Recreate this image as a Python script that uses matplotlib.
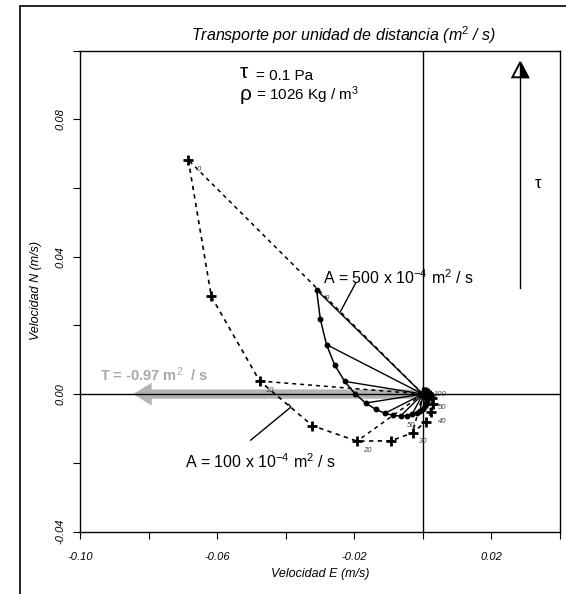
import matplotlib
matplotlib.use('Agg')
import matplotlib.pyplot as plt
from matplotlib.patches import Polygon, Rectangle, FancyArrow

plt.rcParams['font.family'] = ['Liberation Sans', 'DejaVu Sans']
plt.rcParams['mathtext.fontset'] = 'custom'
plt.rcParams['mathtext.rm'] = 'Liberation Sans'
plt.rcParams['mathtext.it'] = 'Liberation Sans:italic'
plt.rcParams['mathtext.bf'] = 'Liberation Sans:bold'

# ---------------- data ----------------
depth_m = [0, 5, 10, 15, 20, 25, 30, 35, 40, 45, 50, 55, 60, 65, 70, 75, 80, 85, 90, 95, 100]

# A = 500e-4 m2/s (solid)
a500_u = [-0.0310, -0.0299, -0.0281, -0.0257, -0.0228, -0.0198, -0.0167, -0.0138, -0.0111,
          -0.0086, -0.0065, -0.0046, -0.0031, -0.0018, -0.0008, 0.0000, 0.0005, 0.0009,
          0.0011, 0.0013, 0.0013]
a500_v = [0.0303, 0.0218, 0.0144, 0.0084, 0.0037, 0.0001, -0.0026, -0.0044, -0.0056,
          -0.0062, -0.0064, -0.0063, -0.0058, -0.0054, -0.0048, -0.0042, -0.0036, -0.0029,
          -0.0023, -0.0018, -0.0014]

# A = 100e-4 m2/s (dashed)
a100_u = [-0.0684, -0.0617, -0.0476, -0.0322, -0.0192, -0.0093, -0.0030, 0.0009, 0.0025,
          0.0030, 0.0027, 0.0021, 0.0014, 0.0008, 0.0004, 0.0001, 0.0000, -0.0001,
          -0.0001, -0.0001, -0.0001]
a100_v = [0.0681, 0.0284, 0.0038, -0.0092, -0.0137, -0.0136, -0.0113, -0.0080, -0.0053,
          -0.0030, -0.0012, -0.0002, 0.0004, 0.0006, 0.0006, 0.0005, 0.0004, 0.0003,
          0.0001, 0.0001, 0.0000]

a100_label_depths = [0, 10, 20, 30, 40, 50]
a500_label_depths = [0, 50, 100]

transport_label = 'T = -0.97 m$^2$  / s'
transport_arrow_u = -0.0845          # arrow tip (drawn length of transport vector)
tau_arrow_x = 0.0284
tau_arrow_y = [0.0308, 0.0966]

x_ticks = [-0.10, -0.08, -0.06, -0.04, -0.02, 0.00, 0.02, 0.04]
x_ticklabels = ['-0.10', '', '-0.06', '', '-0.02', '', '0.02', '']
y_ticks = [-0.04, -0.02, 0.00, 0.02, 0.04, 0.06, 0.08, 0.10]
y_ticklabels = ['-0.04', '', '0.00', '', '0.04', '', '0.08', '']

# ---------------- figure ----------------
W, H = 566, 594
fig = plt.figure(figsize=(W / 100, H / 100), dpi=100)
fig.patch.set_facecolor('white')

L, R, T, B = 80, 560, 50.5, 531.5
ax = fig.add_axes([L / W, (H - B) / H, (R - L) / W, (B - T) / H])
ax.set_xlim(-0.10, 0.04)
ax.set_ylim(-0.04, 0.10)

# outer frame
fig.add_artist(Rectangle((20 / W, -0.2), 2.0, (H - 6) / H + 0.2, transform=fig.transFigure,
                         fill=False, ec='black', lw=1.2))

# gray transport arrow
ax.add_patch(FancyArrow(0, 0, transport_arrow_u, 0, width=0.0027, head_width=0.0066,
                        head_length=0.0054, length_includes_head=True,
                        color='#b3b3b3', ec='none', zorder=1))

# zero lines
ax.axhline(0, color='black', lw=1.0, zorder=3)
ax.axvline(0, color='black', lw=1.0, zorder=3)

dash = (0, (2.6, 2.6))

# fan lines (every 10 m)
for d, u, v in zip(depth_m, a500_u, a500_v):
    if d % 10 == 0:
        ax.plot([0, u], [0, v], color='black', lw=1.0, zorder=4)
for d, u, v in zip(depth_m, a100_u, a100_v):
    if d % 10 == 0:
        ax.plot([0, u], [0, v], color='black', lw=1.1, ls=dash, zorder=4)

# curves
ax.plot(a500_u, a500_v, color='black', lw=1.1, marker='o', ms=3.2, zorder=5)
ax.plot(a100_u, a100_v, color='black', lw=1.2, ls=dash, marker='+', ms=6.5, mew=2.0, zorder=5)

# depth labels
for d, u, v in zip(depth_m, a100_u, a100_v):
    if d in a100_label_depths:
        ax.annotate(str(d), (u, v), xytext=(7.5, -6.5), textcoords='offset points',
                    fontsize=5.5, style='italic', color='#444444', ha='center', va='center',
                    zorder=6)
for d, u, v in zip(depth_m, a500_u, a500_v):
    if d in a500_label_depths:
        off = (7.5, -6.5) if d != 100 else (9, 3)
        ax.annotate(str(d), (u, v), xytext=off, textcoords='offset points',
                    fontsize=5.5, style='italic', color='#444444', ha='center', va='center',
                    zorder=6)

# leader lines for the A labels
ax.plot([-0.0196, -0.0240], [0.0323, 0.0241], color='black', lw=1.0, zorder=4)
ax.plot([-0.0502, -0.0385, -0.0391], [-0.0134, -0.0038, -0.0030], color='black', lw=1.0, zorder=4)

# tau arrow (right)
ax.plot([tau_arrow_x, tau_arrow_x], [tau_arrow_y[0], tau_arrow_y[1] - 0.0044], color='black', lw=1.0,
        zorder=4)
hw = 0.0023
tip = (tau_arrow_x, tau_arrow_y[1])
base_y = tau_arrow_y[1] - 0.0044
ax.add_patch(Polygon([tip, (tau_arrow_x - hw, base_y), (tau_arrow_x + hw, base_y)], closed=True,
                     fc='white', ec='black', lw=1.4, zorder=5))
ax.add_patch(Polygon([tip, (tau_arrow_x, base_y), (tau_arrow_x + hw, base_y)], closed=True,
                     fc='black', ec='black', lw=1.0, zorder=6))

# ticks
ax.set_xticks(x_ticks)
ax.set_xticklabels(x_ticklabels)
ax.set_yticks(y_ticks)
ax.set_yticklabels(y_ticklabels)
ax.tick_params(axis='both', direction='out', length=5, width=0.8, labelsize=8)
ax.tick_params(axis='x', pad=10)
ax.tick_params(axis='y', pad=5.5, labelrotation=90)
for lab in ax.get_xticklabels():
    lab.set_fontstyle('italic')
for lab in ax.get_yticklabels():
    lab.set_fontstyle('italic')
    lab.set_va('center')
for sp in ax.spines.values():
    sp.set_linewidth(1.0)


def ftext(px, py, s, **kw):
    fig.text(px / W, 1 - py / H, s, **kw)


ftext(343, 35, 'Transporte por unidad de distancia (m$^2$ / s)', fontsize=11.5, style='italic',
      ha='center', va='center')
ftext(320, 574, 'Velocidad E (m/s)', fontsize=9, style='italic', ha='center', va='center')
ftext(36, 291, 'Velocidad N (m/s)', fontsize=9, style='italic', ha='center', va='center',
      rotation=90)

ftext(240, 72, 'τ', fontsize=15, ha='left', va='center')
ftext(256, 76, '= 0.1 Pa', fontsize=11, ha='left', va='center')
ftext(240, 95, 'ρ', fontsize=15, ha='left', va='center')
ftext(256, 95, '= 1026 Kg / m$^3$', fontsize=11, ha='left', va='center')

ftext(538, 183, 'τ', fontsize=12, ha='center', va='center')

ftext(323, 278, 'A = 500 x 10$^{-4}$ m$^2$ / s', fontsize=11.5, ha='left', va='center')
ftext(185, 462, 'A = 100 x 10$^{-4}$ m$^2$ / s', fontsize=11.5, ha='left', va='center')

ftext(100, 375, transport_label, fontsize=10.5, fontweight='bold', color='#a8a8a8',
      ha='left', va='center')

fig.savefig('out.png', dpi=100)
